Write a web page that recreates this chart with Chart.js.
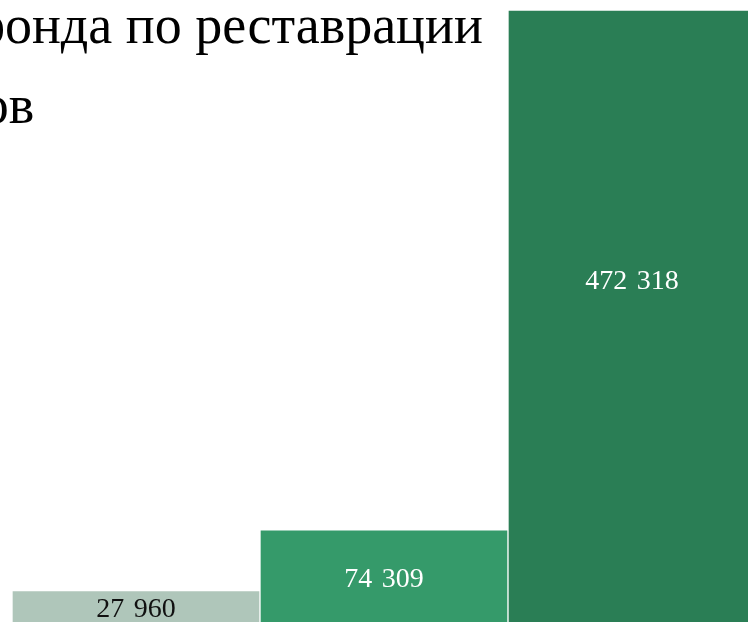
<!DOCTYPE html>
<html>
<head>
<meta charset="utf-8">
<script src="https://cdn.jsdelivr.net/npm/chart.js@4"></script>
<style>
  html, body { margin: 0; padding: 0; background: #fff; overflow: hidden; }
  body { width: 748px; height: 622px; position: relative; }
  #wrap { position: absolute; left: 0; top: 0; width: 760px; height: 627px; }
  #title {
    position: absolute; left: -235px; top: -15px; z-index: 2;
    font-family: "Liberation Serif", "Times New Roman", serif;
    font-size: 54px; line-height: 80px; color: #000;
    white-space: pre; margin: 0; font-weight: normal;
  }
</style>
</head>
<body>
<div id="title">Расходы фонда по реставрации
памятников</div>
<div id="wrap"><canvas id="chart"></canvas></div>
<script>
// values
let categories = ['2019', '2020', '2021']
let amounts = [27960, 74309, 472318]

let barColors = ['#afc6ba', '#359a6a', '#2a7e55']
let labelColors = ['#111111', '#ffffff', '#ffffff']
let labelShift = [1, 1, -37]

const valueLabels = {
  id: 'valueLabels',
  afterDatasetsDraw(chart) {
    const ctx = chart.ctx
    const meta = chart.getDatasetMeta(0)
    ctx.save()
    ctx.font = '28px "Liberation Serif", serif'
    ctx.textAlign = 'center'
    ctx.textBaseline = 'middle'
    meta.data.forEach((bar, i) => {
      let v = chart.data.datasets[0].data[i]
      let txt = v.toLocaleString('ru-RU').replace(/\s/g, '\u2004')
      ctx.fillStyle = labelColors[i]
      ctx.fillText(txt, bar.x, (bar.y + bar.base) / 2 + labelShift[i])
    })
    ctx.restore()
  }
}

document.addEventListener('DOMContentLoaded', () => {
  new Chart(document.getElementById('chart'), {
    type: 'bar',
    data: {
      labels: categories,
      datasets: [{
        data: amounts,
        backgroundColor: barColors,
        borderColor: '#ffffff',
        borderWidth: 1,
        borderSkipped: false,
        barPercentage: 1,
        categoryPercentage: 1
      }]
    },
    options: {
      responsive: true,
      maintainAspectRatio: false,
      animation: false,
      layout: { padding: { left: 12, right: 4, top: 10, bottom: 0 } },
      plugins: {
        legend: { display: false },
        title: { display: false },
        tooltip: { enabled: false }
      },
      scales: {
        x: { display: false },
        y: { display: false, min: 0, max: Math.max(...amounts) }
      }
    },
    plugins: [valueLabels]
  })
})
</script>
</body>
</html>
